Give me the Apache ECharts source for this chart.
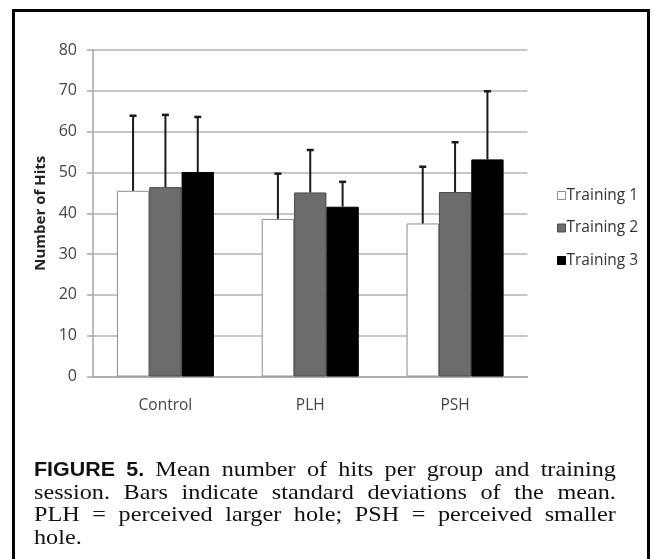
<!DOCTYPE html>
<html>
<head>
<meta charset="utf-8">
<script src="https://cdn.jsdelivr.net/npm/echarts@6/dist/echarts.min.js"></script>
<style>
  html, body { margin: 0; padding: 0; background: #fff; }
  #wrap { position: relative; width: 655px; height: 559px; overflow: hidden; }
  #frame { position: absolute; left: 12px; top: 9px; width: 632px; height: 600px; border: 3.5px solid #000; }
  #chart { position: absolute; left: 0; top: 0; width: 655px; height: 559px; }
  /* the scanned figure is slightly stretched sideways */
  #caption { position: absolute; left: 34px; top: 458px; width: 529px;
    transform: scaleX(1.1); transform-origin: 0 0;
    font-family: "Liberation Serif", "Times New Roman", serif; font-size: 22px; line-height: 22.7px;
    color: #111; }
  #caption .ln { text-align: justify; text-align-last: justify; height: 22.7px; }
  #caption b { font-family: "Liberation Sans Narrow", "Arial Narrow", "Liberation Sans", sans-serif;
    font-weight: bold; font-size: 19.5px; line-height: 1; }
</style>
</head>
<body>
<div id="wrap">
  <div id="frame"></div>
  <div id="chart"></div>
  <div id="caption">
    <div class="ln"><b>FIGURE 5.</b> Mean number of hits per group and training</div>
    <div class="ln">session. Bars indicate standard deviations of the mean.</div>
    <div class="ln">PLH = perceived larger hole; PSH = perceived smaller</div>
    <div>hole.</div>
  </div>
</div>
<script>
var groups = ['Control', 'PLH', 'PSH'];
var sessions = ['Training 1', 'Training 2', 'Training 3'];
// means per session (Control, PLH, PSH)
var training1 = [45.5, 38.6, 37.5];
var training2 = [46.4, 45.1, 45.2];
var training3 = [50.1, 41.6, 53.2];
// top of the SD whisker (mean + SD)
var training1Top = [63.9, 49.7, 51.4];
var training2Top = [64.1, 55.5, 57.4];
var training3Top = [63.6, 47.7, 69.9];

var catGap = 0.33;
var fonts = '"Open Sans", Lato, sans-serif';

var means = [training1, training2, training3];
var tops = [training1Top, training2Top, training3Top];
var fills = ['#ffffff', '#6c6c6c', '#000000'];
var borders = ['#8c8c8c', '#4a4a4a', '#000000'];

function errSeries(k) {
  return {
    type: 'custom',
    z: 5,
    data: groups.map(function (g, i) { return [i, means[k][i], tops[k][i]]; }),
    renderItem: function (params, api) {
      var catW = api.size([1, 0])[0];
      var barW = catW * (1 - catGap) / 3;
      var p0 = api.coord([api.value(0), api.value(1)]);
      var p1 = api.coord([api.value(0), api.value(2)]);
      var x = p0[0] + (k - 1) * barW;
      return {
        type: 'group',
        children: [
          {type: 'line', shape: {x1: x, y1: p0[1], x2: x, y2: p1[1]}, style: {stroke: '#1a1a1a', lineWidth: 2}},
          {type: 'line', shape: {x1: x - 3.5, y1: p1[1], x2: x + 3.5, y2: p1[1]}, style: {stroke: '#1a1a1a', lineWidth: 2.5}}
        ]
      };
    }
  };
}

var series = [];
sessions.forEach(function (s, k) {
  series.push({
    name: s,
    type: 'bar',
    data: means[k],
    barGap: '0%',
    barCategoryGap: (catGap * 100) + '%',
    itemStyle: {color: fills[k], borderColor: borders[k], borderWidth: 1}
  });
});
sessions.forEach(function (s, k) { series.push(errSeries(k)); });

var chart = echarts.init(document.getElementById('chart'));
chart.setOption({
  animation: false,
  textStyle: {fontFamily: fonts},
  grid: {left: 93, right: 127.5, top: 50, bottom: 182.5},
  legend: {
    data: sessions,
    orient: 'vertical',
    left: 552,
    top: 182,
    itemWidth: 8,
    itemHeight: 8,
    itemGap: 15.5,
    icon: 'rect',
    itemStyle: {borderWidth: 1},
    textStyle: {fontFamily: fonts, fontSize: 15.5, lineHeight: 17, color: '#333', padding: [0, 0, 0, -4]}
  },
  xAxis: {
    type: 'category',
    data: groups,
    axisLine: {lineStyle: {color: '#a6a6a6', width: 1.5}},
    axisTick: {show: false},
    axisLabel: {color: '#444', fontSize: 15.5, margin: 21, fontFamily: fonts}
  },
  yAxis: {
    type: 'value',
    min: 0,
    max: 80,
    interval: 10,
    name: 'Number of Hits',
    nameLocation: 'middle',
    nameGap: 42,
    nameTextStyle: {color: '#222', fontSize: 15, fontWeight: 'bold', fontFamily: fonts},
    axisLine: {show: true, lineStyle: {color: '#a6a6a6', width: 1.5}},
    axisTick: {show: true, length: 6, lineStyle: {color: '#a6a6a6', width: 1.5}},
    axisLabel: {color: '#444', fontSize: 16, margin: 16, fontFamily: fonts},
    splitLine: {lineStyle: {color: '#b3b3b3', width: 1.5}}
  },
  series: series
});
</script>
</body>
</html>
